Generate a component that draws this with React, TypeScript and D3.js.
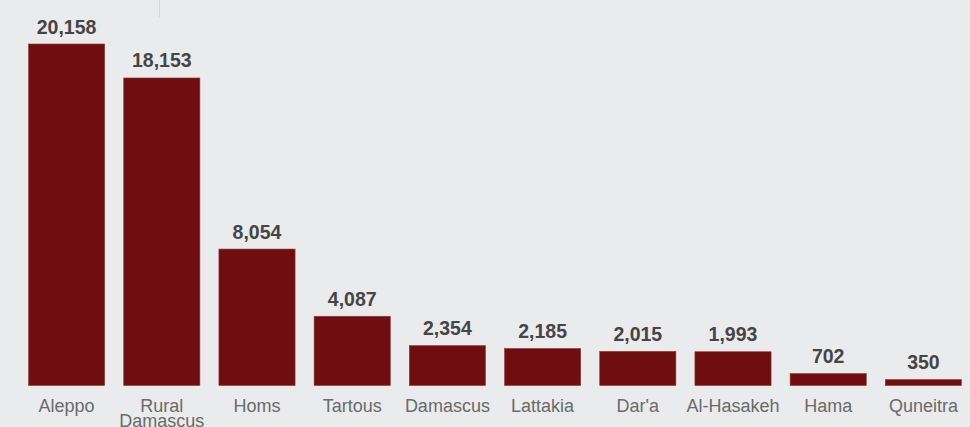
import React from "react";
import * as d3 from "d3";

const categories: string[][] = [
  ["Aleppo"],
  ["Rural", "Damascus"],
  ["Homs"],
  ["Tartous"],
  ["Damascus"],
  ["Lattakia"],
  ["Dar'a"],
  ["Al-Hasakeh"],
  ["Hama"],
  ["Quneitra"],
];
const values: number[] = [20158, 18153, 8054, 4087, 2354, 2185, 2015, 1993, 702, 350];

const W = 970;
const H = 427;

export default function App() {
  const keys = categories.map((c) => c.join(" "));
  const x = d3.scaleBand<string>().domain(keys).range([19, 971]).paddingInner(0.2).paddingOuter(0.1);
  const y = d3.scaleLinear().domain([0, d3.max(values) as number]).range([385.5, 44]);
  const fmt = d3.format(",");

  return (
    <div style={{ position: "absolute", left: 0, top: 0, width: W, height: H }}>
      <svg width={W} height={H} style={{ display: "block", fontFamily: "'Liberation Sans', Arial, sans-serif" }}>
        <rect x={0} y={0} width={W} height={H} fill="#eaebed" />
        <line x1={159.5} x2={159.5} y1={0} y2={17} stroke="#d4d5d7" strokeWidth={1} />
        {values.map((v, i) => {
          const k = keys[i];
          const bx = x(k) as number;
          const cx = bx + x.bandwidth() / 2;
          return (
            <g key={k}>
              <rect
                x={bx}
                y={y(v)}
                width={x.bandwidth()}
                height={y(0) - y(v)}
                fill="#700d10"
                stroke="#8c3a3d"
                strokeWidth={0.6}
              />
              <text x={cx} y={y(v) - 10.5} textAnchor="middle" fontSize={19.5} fontWeight="bold" fill="#454545">
                {fmt(v)}
              </text>
              <text x={cx} y={412} textAnchor="middle" fontSize={18} fill="#6a6a6a">
                {categories[i].map((line, j) => (
                  <tspan key={j} x={cx} dy={j === 0 ? 0 : 15}>
                    {line}
                  </tspan>
                ))}
              </text>
            </g>
          );
        })}
      </svg>
    </div>
  );
}
